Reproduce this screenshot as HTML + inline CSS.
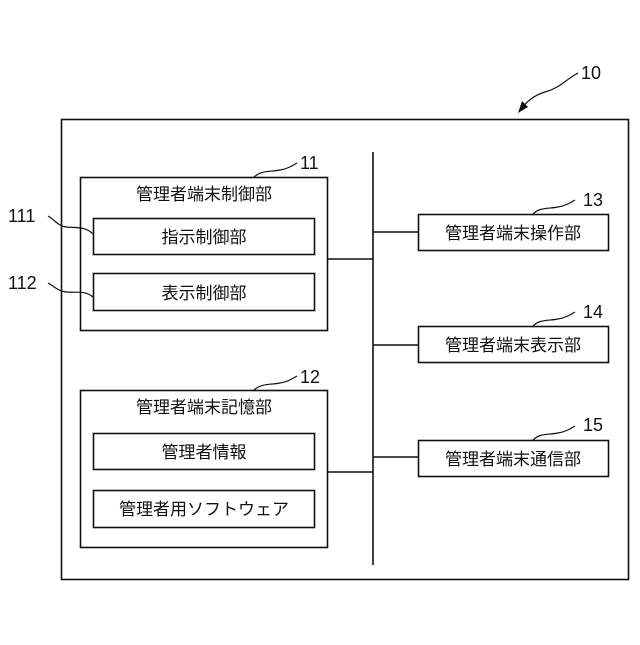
<!DOCTYPE html>
<html><head><meta charset="utf-8"><style>
body{margin:0;background:#fff}
svg text{font-family:"Liberation Sans","Noto Sans CJK JP",sans-serif;fill:#111}
</style></head><body>
<svg width="640" height="640" xmlns="http://www.w3.org/2000/svg">
<g fill="none" stroke="#111" stroke-width="1.6">
<rect x="61.5" y="119.5" width="567" height="460"/>
<rect x="80.5" y="177.5" width="247" height="153"/>
<rect x="93.5" y="218.5" width="221" height="36"/>
<rect x="93.5" y="273.5" width="221" height="37"/>
<rect x="80.5" y="390.5" width="247" height="157"/>
<rect x="93.5" y="433.5" width="221" height="36"/>
<rect x="93.5" y="490.5" width="221" height="37"/>
<rect x="418.5" y="214.5" width="190" height="36"/>
<rect x="418.5" y="326.5" width="190" height="36"/>
<rect x="418.5" y="440.5" width="190" height="36"/>
<line x1="373" y1="152" x2="373" y2="565"/>
<line x1="327" y1="259" x2="373" y2="259"/>
<line x1="327" y1="472" x2="373" y2="472"/>
<line x1="373" y1="232" x2="418" y2="232"/>
<line x1="373" y1="345" x2="418" y2="345"/>
<line x1="373" y1="457" x2="418" y2="457"/>
<g stroke-width="1.2">
<path d="M578,73 C565,80 560,88 545,92 C535,95 528,100 520,110"/>
<path d="M254,177 C262,170 270,172 280,170 C287,169 292,166 297,163"/>
<path d="M254,390 C262,383 270,385 280,383 C287,382 292,379 297,376"/>
<path d="M533,214 C540,207 548,209 558,207 C565,206 570,203 575,200"/>
<path d="M533,326 C540,319 548,321 558,319 C565,318 570,315 575,312"/>
<path d="M533,440 C540,433 548,435 558,433 C565,432 570,429 575,426"/>
<path d="M48,216 C55,220 58,226 66,227 C75,228 85,226 93,234"/>
<path d="M48,283 C55,287 58,291 66,292 C75,293 85,290 93,297"/>
</g>
</g>
<path d="M518,113 L522,101 L528,107 Z" fill="#111"/>
<g font-size="18">
<text x="581" y="79">10</text>
<text x="300" y="169">11</text>
<text x="300" y="383">12</text>
<text x="583" y="206">13</text>
<text x="583" y="318">14</text>
<text x="583" y="431">15</text>
<text x="8" y="222">111</text>
<text x="8" y="289">112</text>
</g>
<g font-size="17" text-anchor="middle">
<text x="204" y="200">管理者端末制御部</text>
<text x="204" y="243">指示制御部</text>
<text x="204" y="299">表示制御部</text>
<text x="204" y="413">管理者端末記憶部</text>
<text x="204" y="458">管理者情報</text>
<text x="204" y="515">管理者用ソフトウェア</text>
<text x="513" y="239">管理者端末操作部</text>
<text x="513" y="351">管理者端末表示部</text>
<text x="513" y="465">管理者端末通信部</text>
</g>
</svg>
</body></html>
